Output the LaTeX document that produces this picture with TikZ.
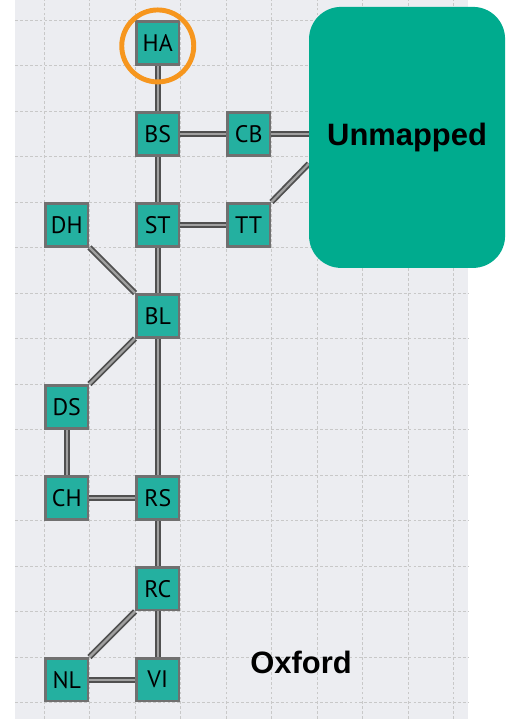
\documentclass[tikz,border=0pt]{standalone}
\usepackage{fontspec}
\usepackage{tikz}
\usetikzlibrary{positioning,calc}
\newfontfamily\stnfont{PT Sans}
\newfontfamily\headfont{Liberation Sans}
\definecolor{paper}{RGB}{236,237,241}
\definecolor{gridgrey}{RGB}{200,200,200}
\definecolor{stnfill}{RGB}{36,176,160}
\definecolor{stnedge}{RGB}{112,112,112}
\definecolor{unmapped}{RGB}{0,171,142}
\definecolor{ringorange}{RGB}{246,150,30}
\definecolor{trackouter}{RGB}{80,80,80}
\definecolor{trackinner}{RGB}{160,160,160}
\pgfdeclarelayer{paperlayer}
\pgfdeclarelayer{tracklayer}
\pgfsetlayers{paperlayer,tracklayer,main}
\tikzset{
  stn/.style={rectangle,draw=stnedge,fill=stnfill,line width=1.8pt,
    minimum size=1.074cm,inner sep=0pt,font=\stnfont\fontsize{17}{20}\selectfont},
  track/.style={draw=trackouter,line width=1.3pt,double=trackinner,double distance=1.6pt},
  gridline/.style={gridgrey,line width=0.6pt,dash pattern=on 2pt off 1.5pt},
  bigtext/.style={font=\headfont\bfseries\fontsize{22}{26}\selectfont}
}
\begin{document}
\begin{tikzpicture}[x=1.1375cm,y=1.1375cm,node distance=2.275cm,on grid]
\useasboundingbox (-0.967,-0.3626) rectangle (10.154,15.44);
\begin{pgfonlayer}{paperlayer}
\fill[paper] (-0.637,-0.3626) rectangle (9.319,15.44);
\foreach \gx in {0,...,9}
  \draw[gridline] (\gx,-0.3626) -- (\gx,15.44);
\foreach \gy in {0,...,15}
  \draw[gridline] (-0.637,\gy) -- (9.319,\gy);
\end{pgfonlayer}

\node (HA) [stn] at (2.5,14.5) {HA};
\node (BS) [stn,below=of HA] {BS};
\node (CB) [stn,right=of BS] {CB};
\node (ST) [stn,below=of BS] {ST};
\node (TT) [stn,right=of ST] {TT};
\node (DH) [stn,left=of ST] {DH};
\node (BL) [stn,below=of ST] {BL};
\node (DS) [stn,below=4.55cm of DH] {DS};
\node (RS) [stn,below=4.55cm of BL] {RS};
\node (CH) [stn,left=of RS] {CH};
\node (RC) [stn,below=of RS] {RC};
\node (VI) [stn,below=of RC] {VI};
\node (NL) [stn,left=of VI] {NL};

\node (UM) [rectangle,rounded corners=0.8cm,fill=unmapped,minimum width=4.9cm,
  minimum height=6.525cm,bigtext] at (7.98,12.42) {Unmapped};
\node (ring) [circle,draw=ringorange,line width=3.5pt,minimum size=1.8cm,inner sep=0pt]
  at (2.5,14.43) {};
\node (oxford) [bigtext] at (5.65,0.87) {Oxford};

\begin{pgfonlayer}{tracklayer}
\draw[track] (HA) -- (BS);
\draw[track] (BS) -- (CB);
\draw[track] (CB.east) -- (CB.east -| UM.west);
\draw[track] (TT.north east) -- (UM.195);
\draw[track] (BS) -- (ST);
\draw[track] (ST) -- (TT);
\draw[track] (ST) -- (BL);
\draw[track] (DH.south east) -- (BL.north west);
\draw[track] (BL.south west) -- (DS.north east);
\draw[track] (BL) -- (RS);
\draw[track] (DS) -- (CH);
\draw[track] (CH) -- (RS);
\draw[track] (RS) -- (RC);
\draw[track] (RC.south west) -- (NL.north east);
\draw[track] (RC) -- (VI);
\draw[track] (NL) -- (VI);
\end{pgfonlayer}
\end{tikzpicture}
\end{document}
